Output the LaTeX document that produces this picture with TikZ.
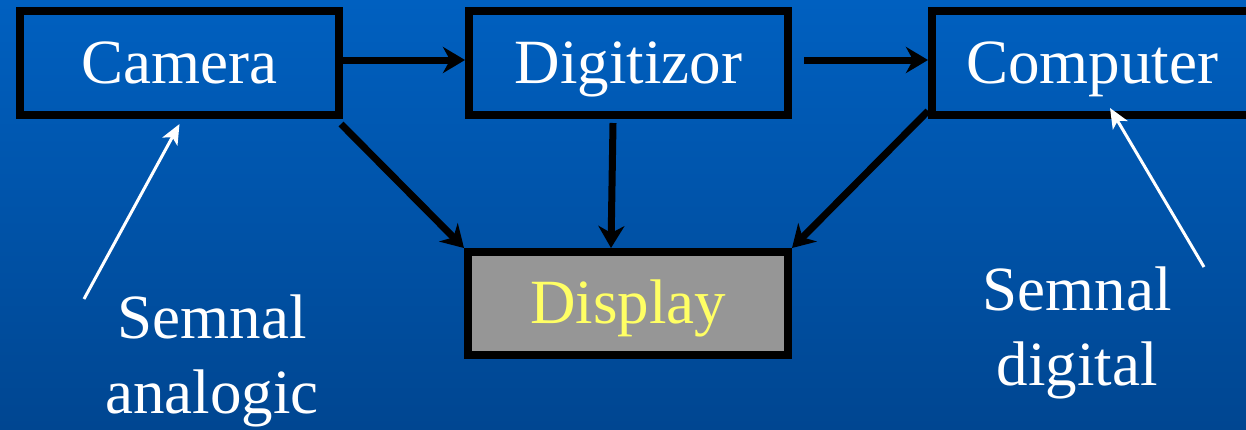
\documentclass[tikz,border=0pt]{standalone}
\usepackage{fontspec}
\setmainfont{Liberation Serif}
\usetikzlibrary{arrows.meta}
\definecolor{bgtop}{RGB}{0,96,192}
\definecolor{bgbot}{RGB}{0,70,145}
\definecolor{dispgray}{RGB}{150,150,150}
\definecolor{dispyellow}{RGB}{255,255,100}
\tikzset{
  blockbox/.style={draw=black, line width=8pt, rectangle, inner sep=0pt,
    minimum width=319pt, minimum height=104pt, text=white,
    font=\fontsize{63}{74}\selectfont, text height=45pt, text depth=5pt},
  flow/.style={draw=black, line width=7pt,
    -{Stealth[length=22pt,width=26pt,inset=7pt]}},
  note/.style={draw=white, line width=3pt,
    -{Stealth[length=20pt,width=17pt,inset=5pt]}},
  notetext/.style={text=white, align=center, inner sep=0pt,
    font=\fontsize{63}{75}\selectfont}
}
\begin{document}
\begin{tikzpicture}[x=1pt,y=-1pt]
\shade[top color=bgtop, bottom color=bgbot] (0,0) rectangle (1246,429);
\useasboundingbox (0,0) rectangle (1246,429);
\node[blockbox] (cam) at (179.5,63) {Camera};
\node[blockbox] (dig) at (628.5,63) {Digitizor};
\node[blockbox, minimum width=320pt] (comp) at (1092,63) {Computer};
\node[blockbox, fill=dispgray, text=dispyellow, minimum width=320pt, minimum height=103pt] (disp) at (628,303.5) {Display};
\draw[flow] ([yshift=3pt]cam.east) -- ([yshift=3pt]dig.west);
\draw[flow] ([xshift=12pt,yshift=3pt]dig.east) -- ([yshift=3pt]comp.west);
\draw[flow] ([xshift=-2pt,yshift=-5pt]cam.south east) -- (disp.north west);
\draw[flow] ([xshift=-15.5pt,yshift=-4pt]dig.south) -- ([xshift=-17pt]disp.north);
\draw[flow] ([yshift=8pt]comp.south west) -- (disp.north east);
\node[notetext, anchor=base] (lblA) at (212,413) {Semnal\\analogic};
\node[notetext, anchor=base] (lblD) at (1077,385) {Semnal\\digital};
\coordinate (startA) at (84,299);
\coordinate (startD) at (1204,267);
\draw[note] (startA) -- ([yshift=-5pt]cam.south);
\draw[note] (startD) -- ([xshift=18pt,yshift=11pt]comp.south);
\end{tikzpicture}
\end{document}
